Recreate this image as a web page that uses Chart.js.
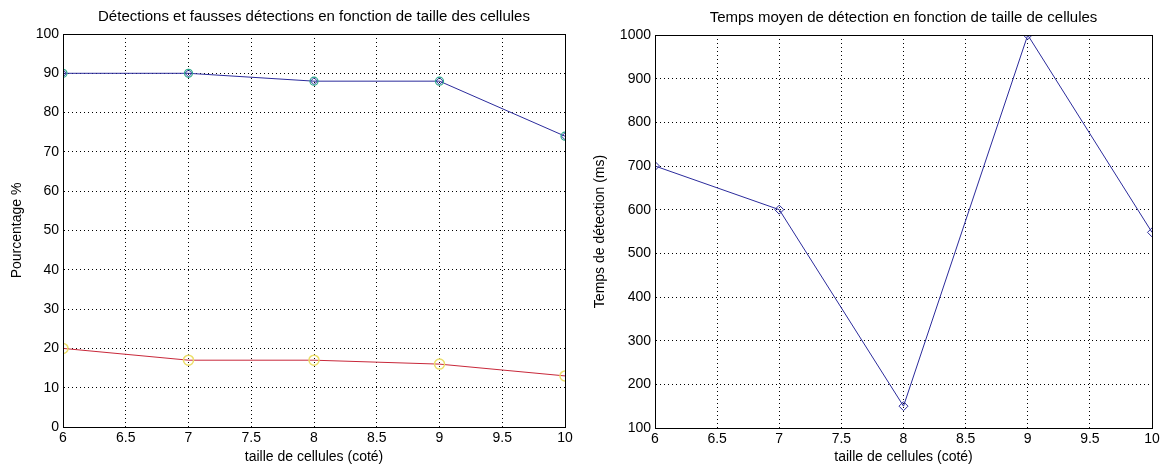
<!DOCTYPE html>
<html>
<head>
<meta charset="utf-8">
<script src="https://cdn.jsdelivr.net/npm/chart.js@4"></script>
<style>
  body { margin: 0; background: #fff; width: 1166px; height: 470px; overflow: hidden; position: relative; }
  canvas { position: absolute; top: 0; }
</style>
</head>
<body>
<canvas id="left" width="580" height="470" style="left:0"></canvas>
<canvas id="right" width="586" height="470" style="left:580px"></canvas>
<script>
// cell size (x values)
var tailles = [6, 7, 8, 9, 10];
// left chart: detections and false detections (%)
var detections = [90, 90, 88, 88, 74];
var faussesDetections = [20, 17, 17, 16, 13];
// right chart: average detection time (ms)
var tempsMoyen = [700, 600, 150, 1000, 548];

var titreGauche = 'Détections et fausses détections en fonction de taille des cellules';
var titreDroite = 'Temps moyen de détection en fonction de taille de cellules';

var police = "'Liberation Sans', Arial, sans-serif";
var policeTicks = "'Liberation Sans Narrow', 'Liberation Sans', Arial, sans-serif";
Chart.defaults.font.family = police;
Chart.defaults.font.size = 14;
Chart.defaults.color = '#000';
Chart.defaults.animation = false;

function pts(ys) {
    return tailles.map(function(x, i) { return { x: x, y: ys[i] }; });
}

// box around the plot + title centered over the plot area
var cadre = {
    id: 'cadre',
    afterDraw: function(chart, args, opts) {
        var a = chart.chartArea, ctx = chart.ctx;
        ctx.save();
        ctx.strokeStyle = '#000';
        ctx.lineWidth = 1;
        ctx.strokeRect(Math.round(a.left) + 0.5, Math.round(a.top) + 0.5, Math.round(a.right - a.left), Math.round(a.bottom - a.top));
        ctx.fillStyle = '#000';
        ctx.font = '15px ' + police;
        ctx.textAlign = 'center';
        ctx.textBaseline = 'middle';
        ctx.fillText(opts.texte, (a.left + a.right) / 2, a.top - 17);
        ctx.restore();
    }
};

function options(ymin, ymax, ystep, ytitre, yLarg, yTitrePad, xHaut, pad) {
    return {
        responsive: false,
        layout: { padding: pad },
        plugins: { legend: { display: false }, tooltip: { enabled: false }, cadre: { texte: '' } },
        scales: {
            x: {
                type: 'linear', min: 6, max: 10,
                ticks: { stepSize: 0.5, padding: 3, maxRotation: 0, font: { family: policeTicks, size: 14 },
                    callback: function(v) { return String(v); } },
                grid: { color: '#000', drawTicks: false },
                border: { color: '#000', dash: [1, 3] },
                title: { display: true, text: 'taille de cellules (coté)', padding: { top: 2, bottom: 4 } },
                afterFit: function(s) { s.height = xHaut; }
            },
            y: {
                min: ymin, max: ymax,
                ticks: { stepSize: ystep, padding: 4, font: { family: policeTicks, size: 14 },
                    callback: function(v) { return String(v); } },
                grid: { color: '#000', drawTicks: false },
                border: { color: '#000', dash: [1, 3] },
                title: { display: true, text: ytitre, padding: { top: yTitrePad, bottom: 4 } },
                afterFit: function(s) { s.width = yLarg; }
            }
        }
    };
}

var optG = options(0, 100, 10, 'Pourcentage %', 63, 9, 43, { top: 34, right: 15, left: 0, bottom: 0 });
optG.plugins.cadre.texte = titreGauche;
new Chart(document.getElementById('left'), {
    type: 'line',
    data: {
        datasets: [{
            data: pts(detections),
            borderColor: '#2b2b9c', borderWidth: 1,
            pointStyle: 'circle', pointRadius: 4,
            pointBorderColor: '#2fa88c', pointBackgroundColor: 'rgba(0,0,0,0)', pointBorderWidth: 1.2,
            tension: 0
        }, {
            data: pts(detections),
            showLine: false,
            pointStyle: 'rectRot', pointRadius: 3.5,
            pointBorderColor: '#2b2b9c', pointBackgroundColor: 'rgba(0,0,0,0)', pointBorderWidth: 1
        }, {
            data: pts(faussesDetections),
            borderColor: '#c8283a', borderWidth: 1,
            pointStyle: 'circle', pointRadius: 5,
            pointBorderColor: '#ecdf6a', pointBackgroundColor: 'rgba(0,0,0,0)', pointBorderWidth: 1.5,
            tension: 0
        }]
    },
    options: optG,
    plugins: [cadre]
});

var optD = options(100, 1000, 100, 'Temps de détection (ms)', 75, 12, 42, { top: 35, right: 14, left: 0, bottom: 0 });
optD.plugins.cadre.texte = titreDroite;
new Chart(document.getElementById('right'), {
    type: 'line',
    data: {
        datasets: [{
            data: pts(tempsMoyen),
            borderColor: '#2b2b9c', borderWidth: 1,
            pointStyle: 'rectRot', pointRadius: 4.5,
            pointBorderColor: '#2b2b9c', pointBackgroundColor: 'rgba(0,0,0,0)', pointBorderWidth: 1,
            tension: 0
        }]
    },
    options: optD,
    plugins: [cadre]
});
</script>
</body>
</html>
